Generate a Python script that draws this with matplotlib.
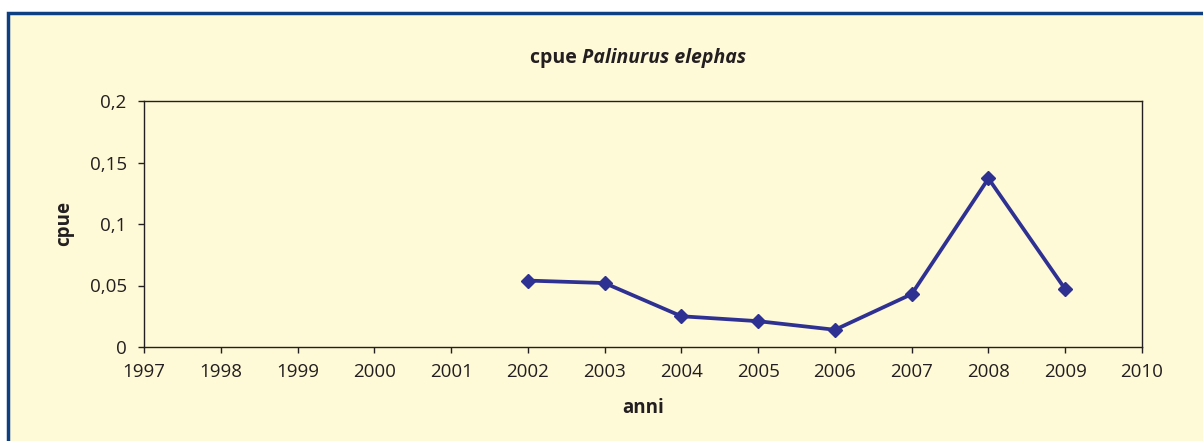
import matplotlib
matplotlib.use("Agg")
import matplotlib.pyplot as plt
from matplotlib.patches import Rectangle
from matplotlib.ticker import FixedLocator

years = [2002, 2003, 2004, 2005, 2006, 2007, 2008, 2009]
cpue = [0.054, 0.052, 0.025, 0.021, 0.014, 0.043, 0.137, 0.047]
xticks = list(range(1997, 2011))
yticks = [0, 0.05, 0.1, 0.15, 0.2]
ytick_labels = ["0", "0,05", "0,1", "0,15", "0,2"]

plt.rcParams['font.family'] = ['Open Sans', 'DejaVu Sans']

W, H = 1203, 441
fig = plt.figure(figsize=(W/100, H/100), dpi=100)
fig.patch.set_facecolor('white')

bg = '#FEF9D6'
txt = '#231F20'
# panel with blue border
fig.patches.append(Rectangle((7.5/W, -0.1), 1.2, (H - 12.5)/H + 0.1, transform=fig.transFigure,
                             facecolor=bg, edgecolor='#0E3F82', linewidth=2.5, zorder=-5))

ax = fig.add_axes([144/W, 1 - 347/H, (1142-144)/W, (347-101)/H])
ax.set_zorder(2)
ax.set_facecolor(bg)
ax.plot(years, cpue, color='#2E3192', linewidth=2.7, marker='D', markersize=7,
        markeredgecolor='#2E3192', markerfacecolor='#2E3192', clip_on=False)
ax.set_xlim(1997, 2010)
ax.set_ylim(0, 0.2)
ax.xaxis.set_major_locator(FixedLocator(xticks))
ax.set_xticklabels([str(x) for x in xticks])
ax.yaxis.set_major_locator(FixedLocator(yticks))
ax.set_yticklabels(ytick_labels)
ax.tick_params(direction='out', length=4.5, width=1, colors=txt, labelsize=13.5)
ax.tick_params(axis='x', pad=7)
ax.tick_params(axis='y', pad=8)
for s in ax.spines.values():
    s.set_color(txt)
    s.set_linewidth(1)
ax.set_xlabel('anni', fontsize=13.5, fontweight='bold', color=txt, labelpad=12)
ax.set_ylabel('cpue', fontsize=13.5, fontweight='bold', color=txt, labelpad=11)

t1 = fig.text(530/W, 1 - 58/H, 'cpue ', ha='left', va='center',
              fontsize=14, fontweight='bold', color=txt)
fig.texts.append(None) if False else None
ax.annotate('Palinurus elephas', xy=(1, 0.5), xycoords=t1, ha='left', va='center',
            fontsize=14, fontweight='bold', fontstyle='italic', color=txt, annotation_clip=False)

fig.savefig('out.png', dpi=100, facecolor=fig.get_facecolor())
